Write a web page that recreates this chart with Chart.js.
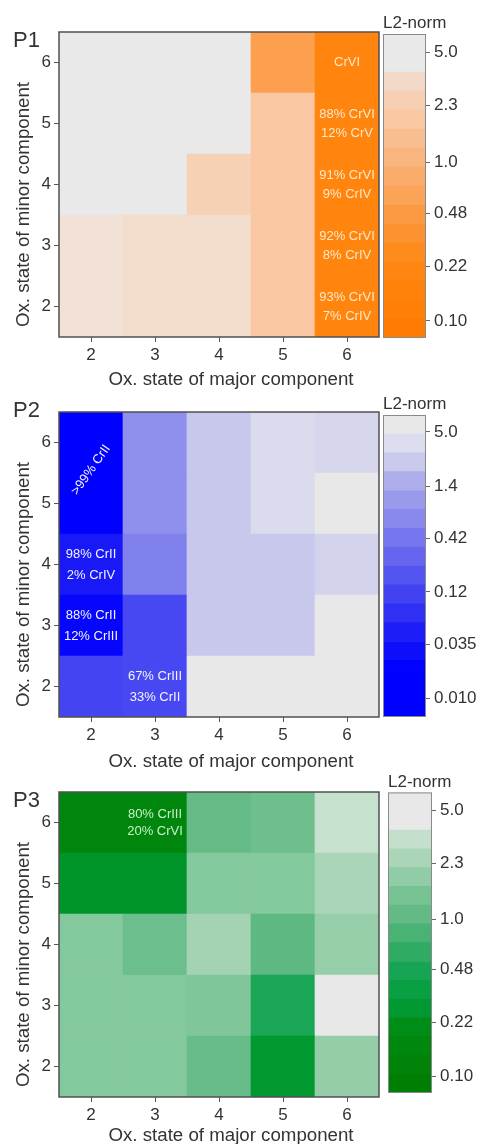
<!DOCTYPE html>
<html>
<head>
<meta charset="utf-8">
<title>L2-norm maps P1-P3</title>
<script src="https://cdn.jsdelivr.net/npm/chart.js@4.4.1/dist/chart.umd.min.js"></script>
<style>
  html, body { margin: 0; padding: 0; background: #fff; }
  #wrap { position: relative; width: 482px; height: 1144px; overflow: hidden; }
  #wrap canvas { position: absolute; }
</style>
</head>
<body>
<div id="wrap">
  <canvas id="map-p1"></canvas>
  <canvas id="bar-p1"></canvas>
  <canvas id="map-p2"></canvas>
  <canvas id="bar-p2"></canvas>
  <canvas id="map-p3"></canvas>
  <canvas id="bar-p3"></canvas>
</div>
<script>
// Axis categories
const majorStates = ['2', '3', '4', '5', '6'];
const minorStates = [2, 3, 4, 5, 6];

// L2-norm per cell: one row per minor state (2..6), columns = major state 2..6
const p1Norm = [
  [3.7, 3.5, 3.5, 1.9, 0.18],
  [3.7, 3.5, 3.5, 1.9, 0.18],
  [6.0, 6.0, 2.6, 1.9, 0.18],
  [6.0, 6.0, 6.0, 1.9, 0.18],
  [6.0, 6.0, 6.0, 0.55, 0.18]
];
const p2Norm = [
  [0.12, 0.13, 6.0, 6.0, 6.0],
  [0.023, 0.13, 2.4, 2.4, 6.0],
  [0.043, 0.55, 2.4, 2.4, 3.0],
  [0.012, 0.78, 2.4, 3.6, 6.0],
  [0.012, 0.78, 2.4, 3.6, 3.2]
];
const p3Norm = [
  [1.65, 1.65, 1.15, 0.27, 1.95],
  [1.65, 1.65, 1.6, 0.5, 6.0],
  [1.65, 1.21, 2.3, 1.0, 1.97],
  [0.25, 0.25, 1.65, 1.65, 2.45],
  [0.15, 0.15, 1.1, 1.25, 3.35]
];

// Colour bar ranges and ticks
const p1Range = [0.078, 6.5];
const p2Range = [0.0065, 7.4];
const p3Range = [0.078, 6.5];
const p1Ticks = [5.0, 2.3, 1.0, 0.48, 0.22, 0.10];
const p1TickLabels = ['5.0', '2.3', '1.0', '0.48', '0.22', '0.10'];
const p2Ticks = [5.0, 1.4, 0.42, 0.12, 0.035, 0.010];
const p2TickLabels = ['5.0', '1.4', '0.42', '0.12', '0.035', '0.010'];
const p3Ticks = [5.0, 2.3, 1.0, 0.48, 0.22, 0.10];
const p3TickLabels = ['5.0', '2.3', '1.0', '0.48', '0.22', '0.10'];

// Phase composition labels written in cells
const p1Notes = [
  { major: '6', minor: 6, lines: ['CrVI'] },
  { major: '6', minor: 5, lines: ['88% CrVI', '12% CrV'] },
  { major: '6', minor: 4, lines: ['91% CrVI', '9% CrIV'] },
  { major: '6', minor: 3, lines: ['92% CrVI', '8% CrIV'] },
  { major: '6', minor: 2, lines: ['93% CrVI', '7% CrIV'] }
];
const p2Notes = [
  { major: '2', minor: 5.55, lines: ['>99% CrII'], angle: -55 },
  { major: '2', minor: 4, lines: ['98% CrII', '2% CrIV'] },
  { major: '2', minor: 3, lines: ['88% CrII', '12% CrIII'] },
  { major: '3', minor: 2, lines: ['67% CrIII', '33% CrII'] }
];
const p3Notes = [
  { major: '3', minor: 6, lines: ['80% CrIII', '20% CrVI'] }
];

// Colour maps, t = 0 at the bottom of the bar, 1 at the top
const ORANGE = [[0, '#ff7a00'], [0.25, '#ff8812'], [0.42, '#fc9c48'], [0.6, '#f9b680'],
  [0.72, '#f9c8a2'], [0.8, '#f6d2b8'], [0.86, '#f2dccc'], [0.874, '#f1e2d8'],
  [0.875, '#e9e9e9'], [1, '#e9e9e9']];
const BLUE = [[0, '#0000ff'], [0.15, '#0000ff'], [0.25, '#1414f8'], [0.42, '#4646f2'],
  [0.6, '#7878ee'], [0.77, '#a8a8ec'], [0.84, '#c8c8ec'], [0.9, '#dcdcee'],
  [0.937, '#dedfef'], [0.9375, '#e8e8e8'], [1, '#e8e8e8']];
const GREEN = [[0, '#007c00'], [0.2, '#008a10'], [0.3, '#009c38'], [0.42, '#1aa656'],
  [0.58, '#5eb882'], [0.68, '#80c69a'], [0.76, '#a2d2b2'], [0.87, '#cfe4d6'],
  [0.875, '#e8e8e8'], [1, '#e8e8e8']];

const FONT = '"Liberation Sans", Arial, Helvetica, sans-serif';
const TEXT = '#333333';
const BANDS = 16;
const PLOT_LEFT = 59;
const PLOT_RIGHT = 379;
const PLOT_H = 305;
const PAGE_W = 482;

const LAYOUT = {
  p1: { top: 0, height: 392, plotTop: 32, labelY: 41, tickPad: 3, tickLen: 5, titleGap: 43, lineGap: 19,
        barLeft: 383, barRight: 426, barTop: 34, barBottom: 338 },
  p2: { top: 392, height: 380, plotTop: 412, labelY: 411, tickPad: 3, tickLen: 5, titleGap: 45, lineGap: 21,
        barLeft: 383, barRight: 426, barTop: 415, barBottom: 717 },
  p3: { top: 772, height: 372, plotTop: 792, labelY: 801, tickPad: 3, tickLen: 5, titleGap: 39, lineGap: 17,
        barLeft: 388, barRight: 432, barTop: 792, barBottom: 1093 }
};

Chart.defaults.font.family = FONT;
Chart.defaults.color = TEXT;

function hexRgb(h) {
  return [1, 3, 5].map(i => parseInt(h.slice(i, i + 2), 16));
}

function mapColor(stops, t) {
  t = Math.min(1, Math.max(0, t));
  for (let i = 1; i < stops.length; i++) {
    if (t <= stops[i][0]) {
      const [t0, c0] = stops[i - 1];
      const [t1, c1] = stops[i];
      const f = t1 === t0 ? 0 : (t - t0) / (t1 - t0);
      const a = hexRgb(c0), b = hexRgb(c1);
      const rgb = a.map((v, k) => Math.round(v + (b[k] - v) * f));
      return `rgb(${rgb.join(',')})`;
    }
  }
  return stops[stops.length - 1][1];
}

function normToT(v, range) {
  const lo = Math.log10(range[0]), hi = Math.log10(range[1]);
  return (Math.log10(v) - lo) / (hi - lo);
}

function sizeCanvas(id, left, top, w, h) {
  const c = document.getElementById(id);
  c.width = w;
  c.height = h;
  c.style.left = left + 'px';
  c.style.top = top + 'px';
  return c;
}

// Frame, cell labels, axis titles and panel tag
function decor(L, tag, notes, noteColor) {
  return {
    id: 'decor',
    afterDatasetsDraw(chart) {
      const { ctx, chartArea: a, scales } = chart;
      ctx.save();
      ctx.strokeStyle = '#505050';
      ctx.lineWidth = 1.5;
      ctx.strokeRect(a.left, a.top, a.right - a.left, a.bottom - a.top);

      ctx.fillStyle = noteColor;
      ctx.font = '13px ' + FONT;
      ctx.textAlign = 'center';
      ctx.textBaseline = 'middle';
      notes.forEach(n => {
        const x = scales.x.getPixelForValue(majorStates.indexOf(n.major));
        const y = scales.y.getPixelForValue(n.minor);
        ctx.save();
        ctx.translate(x, y);
        if (n.angle) ctx.rotate(n.angle * Math.PI / 180);
        n.lines.forEach((t, i) => {
          ctx.fillText(t, 0, (i - (n.lines.length - 1) / 2) * L.lineGap);
        });
        ctx.restore();
      });
      ctx.restore();
    },
    afterDraw(chart) {
      const { ctx, chartArea: a } = chart;
      ctx.save();
      ctx.fillStyle = TEXT;
      ctx.textBaseline = 'middle';
      ctx.textAlign = 'center';
      ctx.font = '18.7px ' + FONT;
      ctx.fillText('Ox. state of major component', (a.left + a.right) / 2 + 12, a.bottom + L.titleGap);

      ctx.save();
      ctx.translate(24, (a.top + a.bottom) / 2 + 20);
      ctx.rotate(-Math.PI / 2);
      ctx.fillText('Ox. state of minor component', 0, 0);
      ctx.restore();

      ctx.textAlign = 'left';
      ctx.font = '22px ' + FONT;
      ctx.fillText(tag, 13, L.labelY - L.top);
      ctx.restore();
    }
  };
}

function drawHeatmap(id, tag, L, norms, stops, range, notes, noteColor) {
  const canvas = sizeCanvas(id, 0, L.top, PLOT_RIGHT + 5, L.height);
  const padTop = L.plotTop - L.top;

  const datasets = minorStates.map((minor, r) => ({
    data: majorStates.map(() => [minor - 0.5, minor + 0.5]),
    backgroundColor: norms[r].map(v => mapColor(stops, normToT(v, range))),
    borderWidth: 0,
    barPercentage: 1,
    categoryPercentage: 1
  }));

  const grid = {
    display: true,
    drawOnChartArea: false,
    drawTicks: true,
    tickLength: L.tickLen,
    color: '#555555',
    offset: false
  };

  new Chart(canvas, {
    type: 'bar',
    data: { labels: majorStates, datasets },
    options: {
      responsive: false,
      animation: false,
      events: [],
      layout: { padding: { left: 0, right: 5, top: padTop, bottom: 0 } },
      plugins: { legend: { display: false }, tooltip: { enabled: false } },
      scales: {
        x: {
          stacked: true,
          offset: true,
          grid: grid,
          border: { display: false },
          ticks: { font: { size: 17 }, color: TEXT, padding: L.tickPad, maxRotation: 0 },
          afterFit: s => { s.height = L.height - padTop - PLOT_H; }
        },
        y: {
          min: 1.5,
          max: 6.5,
          grid: grid,
          border: { display: false },
          ticks: { font: { size: 17 }, color: TEXT, padding: 3 },
          afterBuildTicks: s => { s.ticks = minorStates.map(v => ({ value: v })); },
          afterFit: s => { s.width = PLOT_LEFT; }
        }
      }
    },
    plugins: [decor(L, tag, notes, noteColor)]
  });
}

function drawColorBar(id, L, stops, range, tickVals, tickLabels) {
  const left = L.barLeft - 11;
  const canvas = sizeCanvas(id, left, L.top, PAGE_W - left, L.height);
  const lo = Math.log10(range[0]), hi = Math.log10(range[1]);
  const step = (hi - lo) / BANDS;

  const datasets = [];
  for (let k = 0; k < BANDS; k++) {
    datasets.push({
      data: [[Math.pow(10, lo + k * step), Math.pow(10, lo + (k + 1) * step)]],
      backgroundColor: mapColor(stops, (k + 0.5) / BANDS),
      borderWidth: 0,
      barPercentage: 1,
      categoryPercentage: 1
    });
  }

  new Chart(canvas, {
    type: 'bar',
    data: { labels: [''], datasets },
    options: {
      responsive: false,
      animation: false,
      events: [],
      layout: {
        padding: {
          left: 11,
          right: 0,
          top: Math.max(0, L.barTop - L.top - 20.4),
          bottom: L.top + L.height - L.barBottom
        }
      },
      plugins: {
        legend: { display: false },
        tooltip: { enabled: false },
        title: {
          display: true,
          text: 'L2-norm',
          align: 'start',
          color: TEXT,
          font: { size: 17, weight: 'normal' },
          padding: { top: 0, bottom: 0 }
        }
      },
      scales: {
        x: { stacked: true, display: false },
        y: {
          type: 'logarithmic',
          position: 'right',
          min: range[0],
          max: range[1],
          grid: { drawOnChartArea: false, drawTicks: true, tickLength: 4, color: '#666666' },
          border: { display: false },
          ticks: {
            font: { size: 17 },
            color: TEXT,
            padding: 4,
            callback: (v, i) => tickLabels[i]
          },
          afterBuildTicks: s => { s.ticks = tickVals.map(v => ({ value: v })); },
          afterFit: s => { s.width = PAGE_W - L.barRight; }
        }
      }
    },
    plugins: [{
      id: 'barFrame',
      afterDatasetsDraw(chart) {
        const { ctx, chartArea: a } = chart;
        ctx.save();
        ctx.strokeStyle = '#8a8a8a';
        ctx.lineWidth = 1;
        ctx.strokeRect(a.left + 0.5, a.top + 0.5, a.right - a.left - 1, a.bottom - a.top - 1);
        ctx.restore();
      }
    }]
  });
}

drawHeatmap('map-p1', 'P1', LAYOUT.p1, p1Norm, ORANGE, p1Range, p1Notes, '#ffe8c8');
drawColorBar('bar-p1', LAYOUT.p1, ORANGE, p1Range, p1Ticks, p1TickLabels);
drawHeatmap('map-p2', 'P2', LAYOUT.p2, p2Norm, BLUE, p2Range, p2Notes, '#f4f4ff');
drawColorBar('bar-p2', LAYOUT.p2, BLUE, p2Range, p2Ticks, p2TickLabels);
drawHeatmap('map-p3', 'P3', LAYOUT.p3, p3Norm, GREEN, p3Range, p3Notes, '#c8f0c8');
drawColorBar('bar-p3', LAYOUT.p3, GREEN, p3Range, p3Ticks, p3TickLabels);
</script>
</body>
</html>
